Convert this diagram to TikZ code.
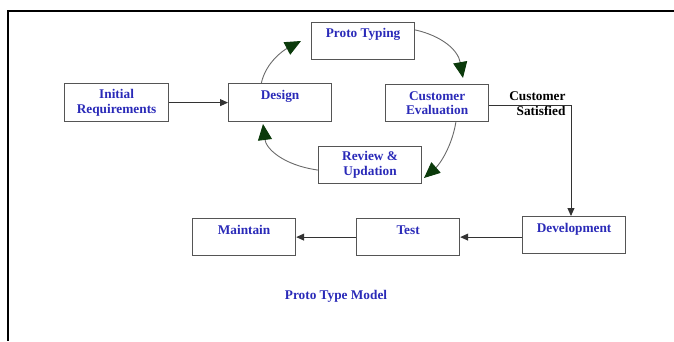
\documentclass[tikz,border=0pt]{standalone}
\usepackage{fontspec}
\setmainfont{Liberation Serif}
\usetikzlibrary{arrows.meta,calc}
\definecolor{boxline}{HTML}{555555}
\definecolor{txtblue}{HTML}{2A2AB8}
\definecolor{tipgreen}{HTML}{0B3A0B}
\definecolor{curvegray}{HTML}{6A6A6A}
\tikzset{
  stage/.style={draw=boxline, line width=1.2pt, rectangle, anchor=north west,
    inner sep=0pt, align=center, text=txtblue,
    font=\fontsize{13.3}{14.7}\selectfont\bfseries},
  flow/.style={draw=black!80, line width=0.9pt,
    -{Triangle[length=8pt,width=7pt]}},
  cycle/.style={draw=curvegray, line width=0.9pt,
    -{Triangle[length=16pt,width=14pt,fill=tipgreen,color=tipgreen]}},
  caption/.style={font=\fontsize{13.3}{14.7}\selectfont\bfseries, align=right}
}
\begin{document}
\begin{tikzpicture}[x=1pt,y=-1pt]
\useasboundingbox (0,0) rectangle (674,341);

% page frame
\draw[line width=1.2pt] (674,11) -- (7.5,11);
\draw[line width=2pt] (53,11) -- (7.5,11) -- (7.5,341);
\draw[line width=2pt] (636,11) -- (674,11);

% stages
\node[stage, minimum width=104pt, minimum height=38pt] (init) at (64,83) {Initial\\Requirements};
\node[stage, minimum width=103pt, minimum height=38pt] (design) at (228,83) {Design\\\mbox{}};
\node[stage, minimum width=103pt, minimum height=37pt] (proto) at (311,21.5) {Proto Typing\\\mbox{}};
\node[stage, minimum width=103pt, minimum height=37pt] (eval) at (385,84) {Customer\\Evaluation};
\node[stage, minimum width=103pt, minimum height=37pt] (review) at (318,146) {Review \&\\Updation};
\node[stage, minimum width=103pt, minimum height=37pt] (dev) at (522,216) {Development\\\mbox{}};
\node[stage, minimum width=103pt, minimum height=37pt] (test) at (356,218) {Test\\\mbox{}};
\node[stage, minimum width=103pt, minimum height=37pt] (maint) at (192,218) {Maintain\\\mbox{}};

% labels
\node[caption, anchor=east] (sat) at (569,103.5) {Customer\\Satisfied};
\node[caption, text=txtblue] (title) at (336,296) {Proto Type Model};

% tips of the prototyping cycle
\coordinate (tipA) at (301,41);
\coordinate (tipB) at (463,78);
\coordinate (tipC) at (424,178);
\coordinate (tipD) at (263,124);

% prototyping cycle
\draw[cycle] ($(design.north west)!0.32!(design.north east)$)
  .. controls (266,62) and (284,50) .. (tipA);
\draw[cycle] ($(proto.north east)!0.22!(proto.south east)$)
  .. controls (442,36) and (458,50) .. (tipB);
\draw[cycle] ($(eval.south west)!0.68!(eval.south east)$)
  .. controls (452,146) and (440,164) .. (tipC);
\draw[cycle] ($(review.north west)!0.63!(review.south west)$)
  .. controls (282,165) and (266,148) .. (tipD);

% main flow
\draw[flow] (init.east) -- (design.west |- init.east);
\draw[flow] ($(eval.north east)!0.57!(eval.south east)$) -| ($(dev.north west)!0.47!(dev.north east)$);
\draw[flow] (test.east -| dev.west) -- (test.east);
\draw[flow] (test.west) -- (maint.east);
\end{tikzpicture}
\end{document}
